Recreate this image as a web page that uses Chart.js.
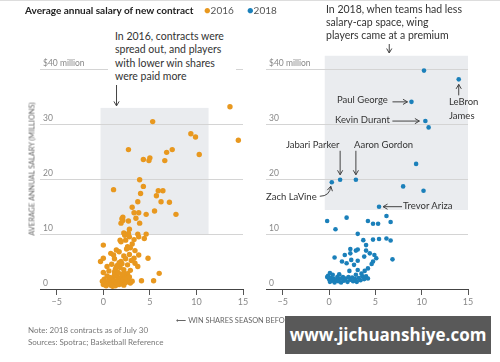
<!DOCTYPE html>
<html><head><meta charset="utf-8">
<script src="https://cdn.jsdelivr.net/npm/chart.js@4.4.0/dist/chart.umd.min.js"></script>
<style>
html,body{margin:0;padding:0;background:#fff;}
#wrap{position:relative;width:500px;height:362px;overflow:hidden;font-family:Lato,"Open Sans",sans-serif;color:#333;}
canvas{position:absolute;left:0;top:0;}
.t{position:absolute;white-space:nowrap;}
</style></head>
<body><div id="wrap">
<canvas id="c1" width="500" height="362"></canvas>
<canvas id="c2" width="500" height="362"></canvas>
</div>
<script>
// ---- data ----
const xTicks = [-5, 0, 5, 10, 15];
const xTickLabels = ['\u22125', '0', '5', '10', '15'];
const yTicks = [0, 10, 20, 30, 40];
const yTickLabels = ['0', '10', '20', '30', '$40 million'];
const winShares2016 = [13.6,5.3,9.4,9.9,14.5,2.7,7.4,6.8,10.3,4.3,5.0,4.9,6.6,3.9,1.1,4.3,4.0,5.9,6.4,5.7,3.7,6.2,7.1,3.1,3.3,3.8,5.5,4.6,7.8,2.1,1.9,2.1,2.0,2.7,3.5,3.9,2.8,2.2,2.7,2.8,3.7,3.8,4.6,4.4,1.8,1.9,2.4,0.0,2.6,2.5,3.4,3.8,4.8,0.8,1.1,1.7,1.4,1.9,1.7,-0.3,0.0,3.3,3.4,3.7,0.4,1.4,1.2,2.2,2.3,2.6,0.0,6.0,4.1,5.4,3.1,2.7,
  0.0,0.2,0.3,0.5,0.6,0.8,0.9,1.0,1.1,1.2,1.3,1.4,1.5,1.6,1.7,1.8,1.9,2.0,2.1,2.2,2.3,2.4,2.5,0.1,0.4,0.7,1.2,1.6,2.0,0.3,1.0,-0.1,0.6,1.3,1.8,2.8,2.9,0.9,1.5,2.0,2.6,2.9,1.2,2.2,2.8,3.0,2.4,3.1,2.9,3.3,2.3];
const salary2016 = [33.2,30.5,28.3,27.7,27.1,25.4,25.4,24.9,24.5,23.6,23.9,23.4,23.4,19.9,18.1,18.7,17.4,17.9,17.9,17.0,15.9,15.9,15.8,14.9,13.9,13.9,14.2,13.6,13.6,13.1,12.0,12.5,12.8,12.4,12.9,12.0,10.9,10.2,10.1,9.5,10.0,9.5,10.0,9.2,8.9,8.6,8.9,8.0,7.7,7.3,7.0,6.2,5.6,6.5,6.2,6.8,7.1,5.0,4.8,5.0,5.6,5.6,4.7,4.1,4.1,4.0,3.1,3.5,2.8,2.8,3.0,2.85,1.5,1.5,1.4,1.4,
  0.8,1.2,0.6,1.0,1.6,0.7,1.3,2.0,0.9,1.5,0.6,1.1,2.3,1.7,0.8,1.4,2.0,1.0,1.6,0.7,2.2,1.2,1.9,1.8,2.4,2.1,2.6,3.0,2.7,0.9,0.5,1.4,3.3,3.6,3.9,2.2,1.1,4.5,4.3,4.6,4.4,3.4,5.5,6.0,6.3,5.2,5.5,8.2,7.5,9.0,9.8];
const winShares2018 = [10.25,14.0,8.9,10.4,10.75,9.4,1.2,2.9,0.3,8.0,10.2,5.4,
  -0.2,1.9,4.2,4.75,5.3,6.2,6.65,0.7,3.1,3.7,4.75,5.4,6.2,6.65,4.0,2.3,2.9,3.1,4.0,2.3,1.7,4.4,4.9,3.8,5.1,4.75,4.6,6.85,0.6,1.4,1.9,2.4,3.1,2.7,3.1,3.85,4.2,2.2,
  -0.1,0.0,0.1,0.2,0.3,0.4,0.5,0.6,0.8,0.9,1.0,1.2,1.3,1.5,1.6,1.8,2.0,2.1,2.3,2.5,2.6,2.8,3.0,3.2,3.4,3.6,3.8,4.0,4.2,2.9,1.1,0.1,-0.2,3.5];
const salary2018 = [39.8,38.2,34.1,30.6,29.45,22.8,19.9,19.9,19.45,18.7,17.9,15.0,
  12.4,13.0,12.4,11.9,11.9,13.3,12.2,10.9,10.05,8.9,9.0,9.1,9.2,8.85,8.0,7.3,7.0,7.2,7.0,6.5,6.2,6.5,6.2,5.9,5.6,5.0,4.55,5.4,5.75,5.0,4.7,5.3,5.15,4.4,3.45,3.3,3.75,3.3,
  2.4,1.8,1.3,2.0,1.5,2.6,1.9,1.2,1.6,2.2,1.4,1.9,1.2,2.2,1.5,1.9,1.3,2.2,1.7,2.1,1.4,1.8,1.3,2.0,1.6,2.3,1.8,2.3,1.9,2.6,2.7,2.9,2.2,2.8];
// highlighted regions [xMin, xMax, yMin, yMax]
const box2016 = [-0.3, 11.3, 10, 33];
const box2018 = [-0.46, 15, 14.4, 42.5];
// labelled players 2018: [name, winShares, salary]
const playerNames = ['Paul George','Kevin Durant','LeBron James','Jabari Parker','Aaron Gordon','Zach LaVine','Trevor Ariza'];
const playerWS =    [8.9, 10.4, 14.0, 1.2, 2.9, 0.3, 5.4];
const playerSal =   [34.1, 30.6, 38.2, 19.9, 19.9, 19.45, 15.0];

const ORANGE = '#E8981F', BLUE = '#1B80BA';
const toPts = (xs, ys) => xs.map((x, i) => ({x, y: ys[i]}));

function arrowHead(ctx, x, y, ang) {
  const L = 4.5, W = 2.6;
  ctx.beginPath();
  ctx.moveTo(x, y);
  ctx.lineTo(x - L*Math.cos(ang) + W*Math.sin(ang), y - L*Math.sin(ang) - W*Math.cos(ang));
  ctx.moveTo(x, y);
  ctx.lineTo(x - L*Math.cos(ang) - W*Math.sin(ang), y - L*Math.sin(ang) + W*Math.cos(ang));
  ctx.stroke();
}
function arrow(ctx, x1, y1, x2, y2) {
  ctx.beginPath(); ctx.moveTo(x1, y1); ctx.lineTo(x2, y2); ctx.stroke();
  arrowHead(ctx, x2, y2, Math.atan2(y2 - y1, x2 - x1));
}

const boxPlugin = {
  id: 'box',
  beforeDraw(chart, args, opts) {
    const {x, y} = chart.scales, b = opts.b, ctx = chart.ctx;
    ctx.save();
    ctx.fillStyle = '#eaecef';
    const l = x.getPixelForValue(b[0]), r = x.getPixelForValue(b[1]);
    const t = y.getPixelForValue(b[3]), bt = y.getPixelForValue(b[2]);
    ctx.fillRect(l, t, r - l, bt - t);
    ctx.restore();
  }
};

function makeOptions(padLeft, padRight, box, withArrows) {
  return {
    responsive: false, animation: false,
    layout: {padding: {left: padLeft, right: padRight, top: 41.5, bottom: 0}},
    plugins: {legend: {display: false}, tooltip: {enabled: false}, box: {b: box}},
    scales: {
      x: {
        type: 'linear', min: -6.8, max: 15,
        afterBuildTicks: s => { s.ticks = xTicks.map(v => ({value: v})); },
        afterFit: s => { s.height = 73; },
        grid: {display: true, drawOnChartArea: false, drawTicks: true, tickLength: 6, color: '#555'},
        border: {display: true, color: '#444', width: 1},
        ticks: {color: '#888', font: {family: 'Lato', size: 9}, padding: 2,
          callback: (v) => xTickLabels[xTicks.indexOf(v)]}
      },
      y: {
        type: 'linear', min: 0, max: 45.1,
        afterBuildTicks: s => { s.ticks = yTicks.map(v => ({value: v})); },
        afterFit: s => { s.width = 0; },
        grid: {drawTicks: false, color: c => (c.tick && c.tick.value === 0) ? 'rgba(0,0,0,0)' : '#d4d4d4'},
        border: {display: false},
        ticks: {mirror: true, padding: 3, labelOffset: -6, color: '#888', font: {family: 'Lato', size: 8.5},
          callback: (v) => yTickLabels[yTicks.indexOf(v)]}
      }
    }
  };
}

new Chart(document.getElementById('c1'), {
  type: 'scatter',
  data: {datasets: [{data: toPts(winShares2016, salary2016), backgroundColor: ORANGE, borderWidth: 0, pointRadius: 2.7}]},
  options: makeOptions(40, 257, box2016),
  plugins: [boxPlugin, {
    id: 'arr1',
    afterDraw(chart) {
      const ctx = chart.ctx; ctx.save(); ctx.strokeStyle = '#444'; ctx.lineWidth = 1;
      const {x, y} = chart.scales;
      const ax = x.getPixelForValue(box2016[0]) + 16;
      arrow(ctx, ax, 85, ax, y.getPixelForValue(box2016[3]) - 2);
      ctx.restore();
    }
  }]
});

new Chart(document.getElementById('c2'), {
  type: 'scatter',
  data: {datasets: [{data: toPts(winShares2018, salary2018), backgroundColor: BLUE, borderWidth: 0, pointRadius: 2.3}]},
  options: makeOptions(266, 32, box2018),
  plugins: [boxPlugin, {
    id: 'arr2',
    afterDraw(chart) {
      const ctx = chart.ctx; ctx.save(); ctx.strokeStyle = '#444'; ctx.lineWidth = 1;
      const {x, y} = chart.scales;
      const P = i => [x.getPixelForValue(playerWS[i]), y.getPixelForValue(playerSal[i])];
      let p;
      p = P(0); arrow(ctx, p[0] - 19, p[1], p[0] - 4, p[1]);           // Paul George
      p = P(1); arrow(ctx, p[0] - 33, p[1], p[0] - 6, p[1]);           // Kevin Durant
      p = P(2); arrow(ctx, p[0], p[1] + 16, p[0], p[1] + 5);           // LeBron James
      p = P(3); arrow(ctx, p[0], p[1] - 29, p[0], p[1] - 5);           // Jabari Parker
      p = P(4); arrow(ctx, p[0], p[1] - 29, p[0], p[1] - 5);           // Aaron Gordon
      p = P(6); arrow(ctx, p[0] + 23, p[1], p[0] + 4, p[1]);           // Trevor Ariza
      p = P(5);                                                        // Zach LaVine (curved)
      ctx.beginPath(); ctx.moveTo(p[0] - 12, p[1] + 14);
      ctx.quadraticCurveTo(p[0] - 2, p[1] + 14, p[0] - 1, p[1] + 4); ctx.stroke();
      arrowHead(ctx, p[0] - 1, p[1] + 4, -Math.PI / 2.3);
      // main annotation arrow
      const ax = x.getPixelForValue(6.5);
      arrow(ctx, ax, 44, ax, 53);
      ctx.restore();
    }
  }]
});

// ---- text ----
const wrap = document.getElementById('wrap');
function T(html, css) { const d = document.createElement('div'); d.className = 't'; d.innerHTML = html; d.style.cssText += css; wrap.appendChild(d); return d; }
T('', 'left:0;top:0;width:500px;height:1px;background:#ddd;');
T('Average annual salary of new contract', 'left:25px;top:4px;font-weight:bold;font-size:10px;color:#222;');
T('<span style="color:'+ORANGE+';font-size:11px">\u25CF</span>2016', 'left:204px;top:3px;font-size:10px;color:#555;');
T('<span style="color:'+BLUE+';font-size:11px">\u25CF</span>2018', 'left:247px;top:3px;font-size:10px;color:#555;');
T('In 2016, contracts were<br>spread out, and players<br>with lower win shares<br>were paid more', 'left:108px;top:30px;padding:0 12px 0 7px;background:#fff;font-size:10.5px;line-height:13.3px;color:#333;');
T('In 2018, when teams had less<br>salary-cap space, wing<br>players came at a premium', 'left:326px;top:3px;font-size:10.5px;line-height:13px;color:#333;');
T('AVERAGE ANNUAL SALARY (MILLIONS)', 'left:32px;top:169px;transform:translate(-50%,-50%) rotate(-90deg);font-size:7.4px;color:#666;');
T('\u27F5 WIN SHARES SEASON BEFORE SIGNING \u27F6', 'left:257px;top:320px;transform:translate(-50%,-50%);font-size:7.4px;color:#666;');
T('Note: 2018 contracts as of July 30<br>Sources: Spotrac; Basketball Reference', 'left:28px;top:325px;font-size:8px;line-height:11.5px;color:#777;');
T('Paul George', 'left:337px;top:94px;font-size:9.5px;color:#333;');
T('Kevin Durant', 'left:335px;top:114px;font-size:9.5px;color:#333;');
T('LeBron<br>James', 'left:449px;top:95px;font-size:9.5px;line-height:14px;color:#333;');
T('Jabari Parker', 'left:286px;top:139px;font-size:9.5px;color:#333;');
T('Aaron Gordon', 'left:354px;top:139px;font-size:9.5px;color:#333;');
T('Zach LaVine', 'left:266px;top:191px;font-size:9.5px;color:#333;');
T('Trevor Ariza', 'left:403px;top:200px;font-size:9.5px;color:#333;');
T('www.jichuanshiye.com', 'left:285px;top:316px;width:206px;height:38px;line-height:38px;text-align:center;background:#595959;color:#fff;font-weight:bold;font-size:17px;font-family:"Open Sans",sans-serif;');
</script>
</body></html>
